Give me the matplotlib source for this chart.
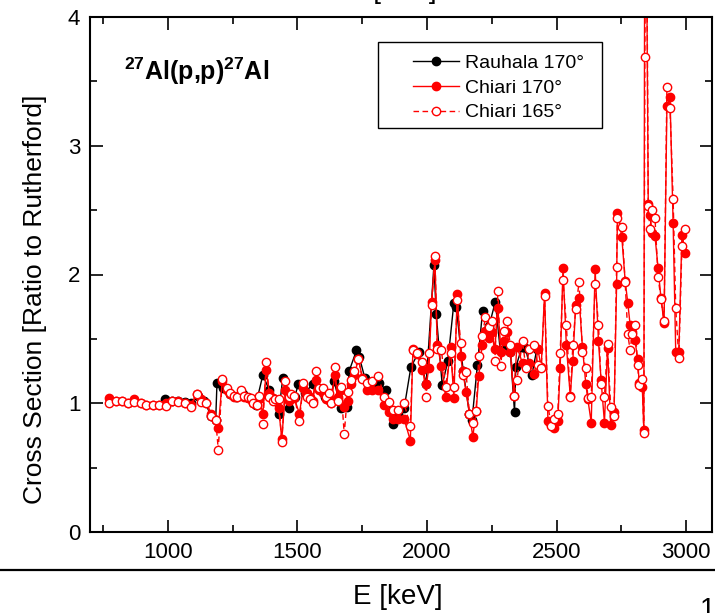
import matplotlib
matplotlib.use('Agg')
import matplotlib.pyplot as plt
import matplotlib.ticker as ticker
from matplotlib.lines import Line2D
from matplotlib.patches import Rectangle

plt.rcParams['font.family'] = ['Liberation Sans', 'DejaVu Sans']
plt.rcParams['mathtext.fontset'] = 'custom'
plt.rcParams['mathtext.rm'] = 'Liberation Sans'
plt.rcParams['mathtext.bf'] = 'Liberation Sans:bold'

#Chiari energies (same for 170 and 165 deg)
E_chiari = [775, 800, 822, 847, 870, 895, 918, 944, 967, 992,
            1017, 1040, 1065, 1088, 1112, 1127, 1149, 1168, 1185, 1195,
            1210, 1228, 1242, 1255, 1268, 1283, 1296, 1308, 1320, 1330,
            1344, 1354, 1367, 1380, 1392, 1405, 1415, 1428, 1440, 1454,
            1467, 1476, 1488, 1508, 1523, 1536, 1547, 1559, 1572, 1585,
            1598, 1610, 1621, 1630, 1645, 1655, 1668, 1681, 1694, 1706,
            1719, 1736, 1751, 1767, 1790, 1813, 1835, 1854, 1870, 1887,
            1912, 1936, 1946, 1963, 1982, 1997, 2008, 2018, 2031, 2040,
            2056, 2072, 2091, 2104, 2117, 2130, 2138, 2151, 2164, 2177,
            2190, 2200, 2213, 2226, 2239, 2251, 2262, 2274, 2285, 2296,
            2309, 2322, 2335, 2347, 2369, 2382, 2395, 2415, 2428, 2441,
            2454, 2467, 2480, 2492, 2505, 2514, 2525, 2538, 2553, 2563,
            2574, 2587, 2600, 2613, 2621, 2634, 2649, 2662, 2672, 2685,
            2697, 2709, 2722, 2732, 2735, 2752, 2765, 2775, 2784, 2792,
            2803, 2813, 2819, 2831, 2837, 2841, 2846, 2854, 2860, 2870,
            2880, 2892, 2903, 2915, 2926, 2938, 2950, 2960, 2972, 2984,
            2997]

chiari_165 = [1.00, 1.02, 1.02, 1.00, 1.01, 1.00, 0.99, 0.99, 0.99, 0.98,
              1.02, 1.01, 1.00, 0.97, 1.07, 1.01, 1.00, 0.90, 0.87, 0.64,
              1.19, 1.12, 1.08, 1.06, 1.05, 1.10, 1.06, 1.05, 1.04, 1.00,
              0.99, 1.06, 0.84, 1.32, 1.05, 1.02, 1.03, 1.03, 0.70, 1.17,
              1.05, 1.07, 1.06, 0.86, 1.16, 1.05, 1.03, 1.00, 1.25, 1.12,
              1.12, 1.05, 1.08, 1.00, 1.28, 1.02, 1.13, 0.76, 1.09, 1.18,
              1.25, 1.34, 1.19, 1.16, 1.17, 1.21, 1.05, 1.01, 0.95, 0.95,
              1.00, 0.82, 1.41, 1.39, 1.32, 1.05, 1.39, 1.76, 2.14, 1.42,
              1.41, 1.13, 1.39, 1.13, 1.80, 1.47, 1.22, 1.24, 0.92, 0.85,
              0.94, 1.37, 1.52, 1.67, 1.59, 1.64, 1.33, 1.87, 1.29, 1.56,
              1.64, 1.45, 1.06, 1.18, 1.48, 1.27, 1.42, 1.45, 1.30, 1.27,
              1.83, 0.98, 0.82, 0.88, 0.92, 1.39, 1.96, 1.61, 1.05, 1.45,
              1.73, 1.94, 1.40, 1.27, 1.04, 1.05, 1.93, 1.61, 1.15, 1.05,
              1.46, 0.97, 0.90, 2.06, 2.44, 2.37, 1.94, 1.54, 1.41, 1.54,
              1.61, 1.30, 1.14, 1.19, 0.77, 3.69, 5.50, 2.53, 2.35, 2.50,
              2.44, 1.98, 1.81, 1.64, 3.46, 3.29, 2.59, 1.74, 1.35, 2.22,
              2.35]

chiari_170 = [1.04, 1.02, 1.02, 1.00, 1.03, 1.00, 0.99, 0.99, 0.99, 1.00,
              1.02, 1.02, 1.00, 0.99, 1.07, 1.03, 1.00, 0.92, 0.87, 0.81,
              1.17, 1.10, 1.07, 1.05, 1.05, 1.08, 1.05, 1.04, 1.03, 1.00,
              0.99, 1.03, 0.92, 1.26, 1.08, 1.04, 1.02, 0.96, 0.72, 1.10,
              1.02, 1.05, 1.04, 0.92, 1.12, 1.08, 1.05, 1.02, 1.18, 1.10,
              1.08, 1.03, 1.04, 1.00, 1.22, 1.05, 1.10, 0.97, 1.02, 1.15,
              1.22, 1.34, 1.20, 1.10, 1.10, 1.10, 0.99, 0.93, 0.88, 0.88,
              0.88, 0.71, 1.42, 1.38, 1.26, 1.15, 1.27, 1.79, 2.11, 1.45,
              1.29, 1.05, 1.44, 1.04, 1.85, 1.37, 1.25, 1.09, 0.92, 0.74,
              0.94, 1.21, 1.45, 1.56, 1.51, 1.55, 1.42, 1.74, 1.40, 1.48,
              1.55, 1.40, 1.06, 1.44, 1.31, 1.28, 1.31, 1.23, 1.42, 1.28,
              1.86, 0.86, 0.83, 0.81, 0.86, 1.27, 2.05, 1.45, 1.06, 1.33,
              1.76, 1.82, 1.44, 1.15, 1.03, 0.85, 2.04, 1.48, 1.18, 0.85,
              1.43, 0.83, 0.93, 1.93, 2.48, 2.29, 1.95, 1.78, 1.61, 1.55,
              1.49, 1.34, 1.16, 1.13, 0.79, 5.50, 5.00, 2.55, 2.46, 2.32,
              2.30, 2.05, 1.82, 1.62, 3.31, 3.38, 2.40, 1.40, 1.40, 2.31,
              2.17]

#Rauhala 170 deg
E_rauhala = [990, 1015, 1040, 1065, 1090, 1115, 1140, 1168, 1185, 1190,
             1215, 1240, 1265, 1290, 1315, 1340, 1367, 1392, 1428, 1444,
             1469, 1490, 1504, 1530, 1559, 1580, 1605, 1625, 1642, 1668,
             1690, 1700, 1728, 1739, 1760, 1790, 1815, 1844, 1869, 1890,
             1912, 1938, 1969, 1997, 2027, 2036, 2059, 2081, 2104, 2113,
             2140, 2164, 2174, 2195, 2215, 2240, 2264, 2283, 2310, 2322,
             2338, 2343, 2367, 2380, 2405, 2424]

rauhala_170 = [1.03, 1.02, 1.02, 1.01, 1.00, 1.06, 1.02, 0.90, 0.87, 1.16,
               1.12, 1.07, 1.05, 1.07, 1.04, 0.99, 1.22, 1.10, 0.92, 1.20,
               0.96, 1.05, 1.15, 1.08, 1.15, 1.12, 1.05, 1.02, 1.17, 0.96,
               0.97, 1.25, 1.41, 1.36, 1.20, 1.16, 1.16, 1.10, 0.84, 0.92,
               0.96, 1.28, 1.40, 1.15, 2.07, 1.69, 1.14, 1.33, 1.78, 1.75,
               1.25, 0.92, 0.87, 1.30, 1.72, 1.60, 1.79, 1.41, 1.45, 1.40,
               0.93, 1.28, 1.44, 1.43, 1.22, 1.42]

fig = plt.figure(figsize=(7.15, 6.13), dpi=100)
ax = fig.add_axes([90/715, 81/613, 622/715, 515/613])

ax.plot(E_rauhala, rauhala_170, color='black', marker='o', markersize=6, linewidth=1,
        label='Rauhala 170°')
ax.plot(E_chiari, chiari_170, color='red', marker='o', markersize=6, linewidth=1,
        label='Chiari 170°')
ax.plot(E_chiari, chiari_165, color='red', marker='o', markersize=6, linewidth=1,
        markerfacecolor='white', markeredgecolor='red', markeredgewidth=1,
        dashes=(4, 2.5), label='Chiari 165°')

ax.set_xlim(700, 3100)
ax.set_ylim(0, 4)
ax.xaxis.set_major_locator(ticker.MultipleLocator(500))
ax.xaxis.set_minor_locator(ticker.MultipleLocator(250))
ax.yaxis.set_major_locator(ticker.MultipleLocator(1))
ax.yaxis.set_minor_locator(ticker.MultipleLocator(0.5))
ax.tick_params(which='both', direction='in', top=True, right=True, width=1.2)
ax.tick_params(which='major', length=9, labelsize=16, pad=7)
ax.tick_params(which='minor', length=5)
for s in ax.spines.values():
    s.set_linewidth(1.5)

#legend without its own frame, box drawn separately (wider side padding)
leg = ax.legend(loc='upper left', bbox_to_anchor=(0.519, 0.927), fontsize=14,
                frameon=False, borderpad=0, borderaxespad=0,
                handlelength=2.4, labelspacing=0.36, handletextpad=0.3)
ax.add_patch(Rectangle((0.463, 0.7845), 0.360, 0.167, transform=ax.transAxes,
                       fill=False, edgecolor='black', linewidth=1, zorder=5))

ax.text(0.055, 0.895, r'$^{\mathbf{27}}$Al(p,p)$^{\mathbf{27}}$Al', transform=ax.transAxes,
        fontsize=18, fontweight='bold', va='center')

fig.text(35/715, 0.511, 'Cross Section [Ratio to Rutherford]', rotation=90,
         fontsize=19, ha='center', va='center')

#separator line and x label below it
fig.add_artist(Line2D([0, 1], [43/613, 43/613], color='black', linewidth=1.6))
fig.text(398/715, 16/613, 'E [keV]', fontsize=20, ha='center', va='center')
fig.text(392/715, 1.004, 'E [keV]', fontsize=20, ha='center', va='baseline')
fig.text(708/715, -4/613, '1', fontsize=20, ha='center', va='baseline')

fig.savefig('out.png', dpi=100)
